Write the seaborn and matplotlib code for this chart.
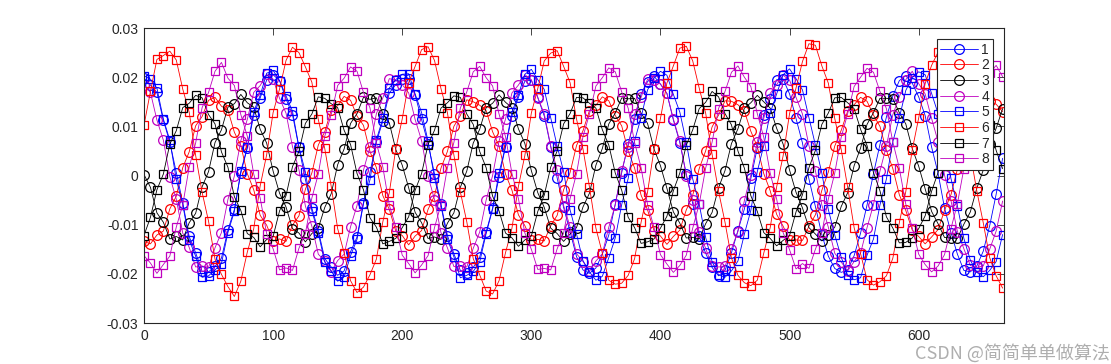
import numpy as np
import pandas as pd
import matplotlib
matplotlib.use('agg')
import matplotlib.pyplot as plt
import seaborn as sns

# sample positions, every 5th sample of the signal
x = np.arange(0, 666, 5)

# values, in units of 1e-3
y1 = [19.8, 18.4, 16.9, 11.2, 6.8, 0.6, -5.5, -12.4, -15.7, -19.5, -19.6, -18.5, -16.8, -11.1, -6.9, 0.5, 5.6, 12.3, 15.8, 19.4,
      20.5, 19.3, 15.6, 12.4, 5.7, -0.8, -6.6, -11.2, -16.9, -18.6, -20.3, -19.4, -15.5, -12.5, -5.5, 0.7, 6.8, 11.1, 16.8, 18.5,
      19.7, 19.6, 16.4, 11.4, 6.5, 0.4, -5.8, -12.2, -15.9, -19.3, -19.8, -18.7, -16.6, -11.5, -6.6, -0.4, 5.9, 12.1, 15.9, 19.2,
      19.4, 15.9, 12.1, 5.9, -0.5, -6.5, -11.4, -16.5, -19.2, -19.9, -18.8, -16.0, -12.1, -5.8, 0.6, 6.4, 11.5, 16.6, 19.1, 20.2,
      18.6, 16.7, 11.3, 6.7, 0.3, -5.7, -12.3, -15.8, -18.7, -20.4, -19.3, -15.7, -11.2, -6.8, -0.6, 5.6, 12.4, 15.6, 19.5, 19.6,
      16.6, 11.6, 6.6, -0.7, -6.3, -12.0, -16.4, -18.9, -19.7, -19.2, -16.3, -11.7, -6.0, 0.4, 6.3, 11.9, 16.2, 19.3, 20.3, 18.8,
      16.0, 12.2, 5.8, 0.5, -6.6, -11.6, -16.0, -19.3, -19.6, -18.4, -15.4, -10.2, -3.8, 3.5]
y2 = [-13.4, -13.9, -12.1, -11.3, -6.8, -4.2, 1.6, 4.8, 10.1, 12.0, 15.3, 15.9, 14.1, 13.3, 8.8, 6.1, 0.4, -2.9, -8.1, -10.1,
      -13.3, -12.9, -13.4, -10.1, -8.2, -2.8, 0.5, 6.2, 8.9, 13.3, 14.2, 16.1, 15.3, 12.1, 10.2, 4.9, 1.6, -4.1, -6.9, -11.3,
      -12.2, -14.1, -12.3, -11.2, -6.9, -4.1, 1.5, 4.9, 10.0, 12.2, 15.4, 15.0, 14.3, 13.2, 8.9, 6.0, 0.3, -3.0, -8.0, -10.2,
      -13.2, -13.0, -13.3, -10.2, -8.1, -2.9, 0.6, 6.1, 9.1, 13.2, 14.3, 16.0, 15.2, 12.2, 10.1, 5.0, 1.5, -4.0, -7.0, -11.2,
      -12.3, -14.0, -12.4, -11.1, -7.0, -4.0, 1.4, 5.0, 9.9, 12.3, 15.2, 15.1, 14.4, 13.1, 9.0, 5.9, 0.4, -3.1, -7.9, -10.3,
      -13.1, -13.1, -13.2, -10.3, -8.0, -3.0, 0.7, 6.0, 9.2, 13.1, 14.4, 15.9, 15.1, 12.3, 10.0, 5.1, 1.4, -3.9, -7.1, -11.1,
      -12.4, -13.9, -12.5, -11.0, -7.1, -3.9, 1.3, 5.1, 9.8, 12.4, 15.1, 15.2, 14.5, 13.0]
y3 = [0.2, -2.4, -7.6, -9.5, -12.9, -12.4, -13.1, -9.6, -7.7, -2.3, 0.8, 6.7, 9.3, 13.9, 14.6, 16.5, 14.8, 13.9, 9.4, 6.6,
      0.9, -3.6, -6.4, -10.8, -11.7, -13.5, -11.8, -10.7, -6.5, -3.7, 2.2, 5.4, 10.6, 12.6, 15.9, 15.5, 15.8, 12.6, 10.7, 5.3,
      2.1, -2.5, -7.5, -9.6, -12.8, -12.5, -13.0, -9.7, -7.6, -2.4, 0.9, 6.6, 9.4, 13.8, 14.7, 16.4, 14.9, 13.8, 9.5, 6.5,
      1.0, -3.5, -6.5, -10.7, -11.8, -13.4, -11.9, -10.6, -6.4, -3.6, 2.1, 5.5, 10.5, 12.7, 15.8, 15.6, 15.7, 12.7, 10.6, 5.4,
      2.0, -2.6, -7.4, -9.7, -12.7, -12.6, -12.9, -9.8, -7.5, -2.5, 1.0, 6.5, 9.5, 13.7, 14.8, 16.3, 15.0, 13.7, 9.6, 6.4,
      1.1, -3.4, -6.6, -10.6, -11.9, -13.3, -12.0, -10.5, -6.3, -3.5, 2.0, 5.6, 10.4, 12.8, 15.7, 15.7, 15.6, 12.8, 10.5, 5.5,
      1.9, -2.7, -7.3, -9.8, -12.6, -12.7, -12.8, -9.9, -7.4, -2.6, 1.1, 6.4, 9.6, 13.6]
y4 = [18.4, 16.9, 11.3, 7.2, -0.2, -4.8, -11.7, -14.6, -18.6, -18.4, -18.7, -14.7, -11.6, -4.9, -0.1, 7.1, 11.4, 16.9, 18.3, 20.6,
      19.6, 15.7, 12.7, 5.9, 1.2, -6.2, -10.3, -16.0, -17.4, -19.6, -17.3, -16.0, -10.4, -6.1, 1.1, 5.8, 12.6, 15.8, 19.7, 19.4,
      18.5, 16.8, 11.4, 7.1, -0.1, -4.9, -11.6, -14.7, -18.5, -18.5, -18.6, -14.8, -11.5, -5.0, 0.0, 7.0, 11.5, 16.8, 18.4, 20.5,
      19.5, 15.8, 12.6, 6.0, 1.1, -6.1, -10.4, -15.9, -17.5, -19.5, -17.4, -15.9, -10.5, -6.0, 1.0, 5.9, 12.5, 15.9, 19.6, 19.5,
      18.6, 16.7, 11.5, 7.0, 0.0, -5.0, -11.5, -14.8, -18.4, -18.6, -18.5, -14.9, -11.4, -5.1, 0.1, 6.9, 11.6, 16.7, 18.5, 20.4,
      19.4, 15.9, 12.5, 6.1, 1.0, -6.0, -10.5, -15.8, -17.6, -19.4, -17.5, -15.8, -10.6, -5.9, 0.9, 6.0, 12.4, 16.0, 19.5, 21.2,
      18.7, 16.6, 11.6, 6.9, 0.1, -5.1, -11.4, -14.9, -18.3, -18.7, -18.4, -15.0, -11.3, -5.2]
y5 = [20.3, 19.6, 17.8, 11.5, 7.2, -0.8, -5.9, -13.1, -16.4, -20.7, -20.4, -19.2, -17.9, -11.6, -7.3, 0.9, 5.7, 13.0, 16.3, 20.8,
      21.4, 19.3, 16.2, 13.1, 5.8, 0.7, -7.2, -11.7, -17.6, -19.4, -21.5, -20.6, -16.3, -13.0, -5.7, -0.9, 7.3, 11.6, 17.8, 19.5,
      20.6, 20.7, 16.6, 12.8, 7.0, -0.5, -6.1, -12.9, -16.5, -20.8, -20.3, -19.5, -17.6, -11.8, -6.9, 0.6, 5.9, 12.9, 16.4, 20.6,
      21.6, 19.5, 17.5, 11.7, 6.0, 0.8, -7.0, -11.9, -17.3, -19.6, -21.3, -20.5, -16.7, -12.7, -5.9, -0.6, 7.1, 11.8, 17.4, 19.8,
      21.2, 20.4, 16.5, 12.9, 6.8, -0.7, -5.8, -12.6, -17.5, -20.2, -20.7, -19.4, -17.4, -11.9, -7.1, 0.8, 6.1, 12.7, 16.6, 20.5,
      21.7, 19.7, 17.4, 11.8, 6.2, 0.5, -6.9, -12.1, -16.6, -20.3, -21.2, -20.8, -16.2, -12.9, -6.0, -0.7, 6.9, 11.7, 17.3, 19.9,
      21.1, 20.5, 16.7, 12.6, 7.1, -0.6, -6.2, -12.8, -17.2, -19.7, -20.6, -19.3, -17.5, -12.0]
y6 = [10.2, 17.1, 23.6, 24.4, 25.3, 23.5, 17.6, 12.9, 4.1, -3.4, -9.3, -17.0, -20.1, -22.6, -24.6, -21.5, -15.6, -10.8, -2.1, 4.2,
      12.8, 17.6, 23.4, 26.1, 25.0, 22.1, 19.0, 11.4, 5.5, -2.2, -10.8, -15.7, -21.4, -23.8, -22.7, -20.2, -17.0, -9.4, -3.5, 5.4,
      11.5, 18.9, 22.2, 25.6, 26.2, 23.4, 17.7, 12.8, 4.2, -3.3, -9.4, -16.9, -20.2, -23.5, -24.1, -21.4, -15.7, -10.7, -2.2, 4.1,
      12.7, 17.7, 23.3, 24.9, 25.4, 22.2, 18.9, 11.5, 5.4, -2.3, -10.7, -15.8, -21.3, -22.1, -21.9, -20.3, -16.9, -9.5, -3.4, 5.3,
      11.6, 18.8, 22.3, 25.9, 26.3, 23.3, 17.8, 12.7, 4.3, -3.2, -9.5, -16.8, -20.3, -21.8, -22.4, -21.3, -15.8, -10.6, -2.3, 4.0,
      12.6, 17.8, 23.2, 26.8, 26.5, 22.3, 18.8, 11.6, 5.3, -2.4, -10.6, -15.9, -21.2, -22.3, -21.6, -20.4, -16.8, -9.6, -3.3, 5.2,
      11.7, 18.7, 22.4, 25.1, 24.8, 23.2, 17.9, 12.6, 4.4, -3.1, -9.6, -16.7, -20.4, -22.9]
y7 = [-12.2, -8.5, -2.9, 0.3, 6.4, 9.1, 13.8, 14.7, 16.3, 15.8, 12.4, 10.5, 4.8, 1.7, -4.3, -7.1, -11.8, -12.6, -14.5, -13.0,
      -12.4, -7.2, -4.1, 1.8, 4.9, 10.6, 12.5, 16.0, 15.7, 14.6, 13.8, 9.2, 6.3, 0.4, -2.9, -8.6, -10.5, -13.9, -13.4, -12.8,
      -10.6, -8.4, -3.0, 0.4, 6.3, 9.2, 13.7, 14.8, 16.2, 15.9, 12.5, 10.4, 4.9, 1.6, -4.2, -7.2, -11.7, -12.7, -14.4, -13.1,
      -12.3, -7.3, -4.0, 1.7, 5.0, 10.5, 12.6, 15.9, 15.8, 14.7, 13.7, 9.3, 6.2, 0.5, -3.0, -8.5, -10.6, -13.8, -13.5, -12.9,
      -10.7, -8.3, -3.1, 0.5, 6.2, 9.3, 13.6, 14.9, 17.1, 16.0, 12.6, 10.3, 5.0, 1.5, -4.1, -7.3, -11.6, -12.8, -14.3, -13.2,
      -12.2, -7.4, -3.9, 1.6, 5.1, 10.4, 12.7, 15.8, 15.9, 14.8, 13.6, 9.4, 6.1, 0.6, -3.1, -8.4, -10.7, -13.7, -13.6, -12.7,
      -10.8, -8.2, -3.2, 0.6, 6.1, 9.4, 13.5, 15.0, 16.1, 15.2, 12.7, 10.2, 5.1, 1.4]
y8 = [-16.3, -17.8, -19.9, -18.1, -16.4, -10.5, -6.0, 1.7, 6.6, 13.8, 16.9, 21.2, 23.0, 19.8, 18.3, 12.4, 8.0, 0.3, -4.6, -11.8,
      -14.9, -19.2, -18.8, -19.3, -14.8, -11.8, -4.6, 0.3, 8.0, 12.4, 18.3, 19.8, 22.1, 21.2, 16.9, 13.8, 6.6, 1.7, -6.0, -10.4,
      -16.2, -17.9, -19.8, -18.2, -16.3, -10.6, -5.9, 1.6, 6.7, 13.7, 17.0, 21.1, 22.2, 19.9, 18.2, 12.5, 7.9, 0.4, -4.7, -11.7,
      -15.0, -19.1, -18.9, -19.2, -14.9, -11.7, -4.7, 0.4, 7.9, 12.5, 18.2, 19.9, 21.9, 21.1, 17.0, 13.7, 6.7, 1.6, -5.9, -10.5,
      -16.1, -18.0, -19.7, -18.3, -16.2, -10.7, -5.8, 1.5, 6.8, 13.6, 17.1, 21.0, 22.3, 20.0, 18.1, 12.6, 7.8, 0.5, -4.8, -11.6,
      -15.1, -19.0, -17.9, -18.9, -15.0, -11.6, -4.8, 0.5, 7.8, 12.6, 18.1, 20.0, 21.8, 21.0, 17.1, 13.6, 6.8, 1.5, -5.8, -10.6,
      -16.0, -18.1, -19.6, -18.4, -16.1, -10.8, -5.7, 1.4, 6.9, 13.5, 17.2, 20.9, 22.4, 20.1]

labels = ['1', '2', '3', '4', '5', '6', '7', '8']
colors = ['b', 'r', 'k', 'm', 'b', 'r', 'k', 'm']
markers = ['o', 'o', 'o', 'o', 's', 's', 's', 's']

series = [y1, y2, y3, y4, y5, y6, y7, y8]
frames = []
for lab, ys in zip(labels, series):
    assert len(ys) == len(x), (lab, len(ys))
    frames.append(pd.DataFrame({'x': x, 'y': np.array(ys) * 1e-3, 'series': lab}))
df = pd.concat(frames, ignore_index=True)

sns.set_style('white')
plt.rcParams['font.family'] = ['Liberation Sans', 'Noto Sans CJK SC', 'DejaVu Sans']
plt.rcParams['axes.unicode_minus'] = False
plt.rcParams['legend.numpoints'] = 1

fig = plt.figure(figsize=(11.11, 3.64), dpi=100)
ax = fig.add_axes([0.1296, 0.1126, 0.774, 0.8104])

for lab, c, m in zip(labels, colors, markers):
    ms = 7 if m == 'o' else 6
    sns.lineplot(data=df[df['series'] == lab], x='x', y='y', color=c, marker=m,
                 markersize=ms, markerfacecolor='none', markeredgecolor=c,
                 markeredgewidth=0.9, linewidth=0.6, label=lab, ax=ax,
                 estimator=None, sort=False)

ax.set_xlim(0, 666)
ax.set_ylim(-0.03, 0.03)
ax.set_xticks([0, 100, 200, 300, 400, 500, 600])
ax.set_yticks([-0.03, -0.02, -0.01, 0, 0.01, 0.02, 0.03])
ax.set_yticklabels(['-0.03', '-0.02', '-0.01', '0', '0.01', '0.02', '0.03'])
ax.set_xlabel('')
ax.set_ylabel('')
ax.tick_params(direction='in', top=True, right=True, length=5, width=0.6,
               labelsize=10, colors='#262626', pad=4)
for sp in ax.spines.values():
    sp.set_color('#262626')
    sp.set_linewidth(0.8)

leg = ax.legend(loc='upper right', fontsize=10, frameon=True, fancybox=False,
                framealpha=1, edgecolor='#262626', handlelength=2.7,
                handletextpad=0.25, labelspacing=0.12, borderpad=0.25,
                borderaxespad=0.8)
leg.get_frame().set_linewidth(0.8)

# watermark, kept just under the 600 tick label
fig.text(0.999, 0.004, 'CSDN @简简单单做算法', ha='right', va='bottom', fontsize=13,
         color='#9a9a9a', alpha=0.8, family=['Noto Sans CJK SC', 'DejaVu Sans'])

plt.savefig('out.png', dpi=100)
plt.close()
